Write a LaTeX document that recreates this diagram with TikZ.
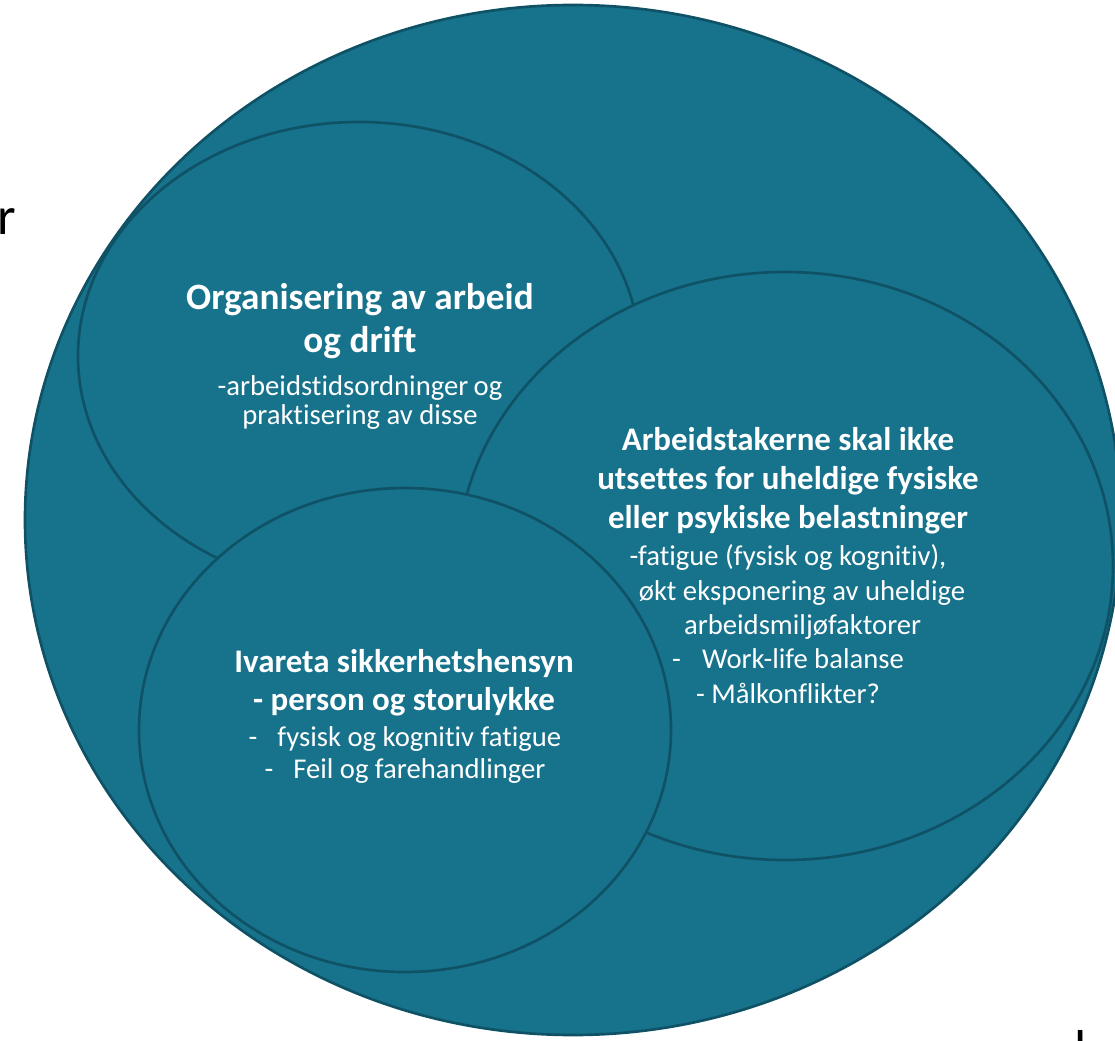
\documentclass[tikz,border=0pt]{standalone}
\usepackage{fontspec}
\setmainfont[Ligatures=NoCommon]{Carlito}
\usetikzlibrary{positioning}
\definecolor{bubbleTeal}{RGB}{23,114,140}
\definecolor{bubbleEdge}{RGB}{15,82,102}
\tikzset{
  bubble/.style={fill=bubbleTeal,draw=bubbleEdge,line width=2pt},
  bubbletitle/.style={text=white,align=center,inner sep=0pt,anchor=base,
    font=\bfseries\fontsize{24.7pt}{29pt}\selectfont},
  bubbletext/.style={text=white,align=center,inner sep=0pt,anchor=base,
    font=\fontsize{21.5pt}{25.7pt}\selectfont},
  stray/.style={text=black,inner sep=0pt,font=\fontsize{40pt}{48pt}\selectfont}
}

\begin{document}
\begin{tikzpicture}[x=0.75pt,y=-0.75pt]
  \useasboundingbox (0,0) rectangle (1115,1041);
  \clip (0,0) rectangle (1115,1041);

  % bubbles, outer one first
  \path[bubble] (573,520) ellipse [x radius=548, y radius=515];
  \path[bubble] (359,356) ellipse [x radius=281, y radius=234];
  \path[bubble] (785,566) ellipse [x radius=328, y radius=294];
  \path[bubble] (405,730) ellipse [x radius=266, y radius=242];

  % organisering (node base = last line)
  \node[bubbletitle,font=\bfseries\fontsize{27.9pt}{32.3pt}\selectfont] (orgTitle) at (360,353)
    {Organisering av arbeid\\og drift};
  \node[bubbletext,font=\fontsize{21.5pt}{22pt}\selectfont] (orgText) at (360,425)
    {-arbeidstidsordninger\hspace{4pt}og\\praktisering av disse};

  % arbeidstakerne
  \node[bubbletitle] (arbTitle) at (788,528)
    {Arbeidstakerne skal ikke\\utsettes for uheldige fysiske\\eller psykiske belastninger};
  \node[bubbletext] (arbText) at (788,703)
    {-fatigue (fysisk og kognitiv),\\
     \hspace*{21pt}økt eksponering av uheldige\\
     \hspace*{22pt}arbeidsmiljøfaktorer\\
     -\hspace{16pt}Work-life balanse\\
     - Målkonflikter?};

  % ivareta
  \node[bubbletitle,font=\bfseries\fontsize{24.7pt}{28.5pt}\selectfont] (ivaTitle) at (404,710)
    {Ivareta sikkerhetshensyn\\- person og storulykke};
  \node[bubbletext,font=\fontsize{21.5pt}{23.3pt}\selectfont] (ivaText) at (405,778)
    {-\hspace{15pt}fysisk og kognitiv fatigue\\-\hspace{15pt}Feil og farehandlinger};

  % loose letters at the edges
  \node[stray,anchor=base west] (leftChar) at (-3,235) {r};
  \node[stray,anchor=base] (bottomChar) at (1081,1067) {l};
\end{tikzpicture}
\end{document}
